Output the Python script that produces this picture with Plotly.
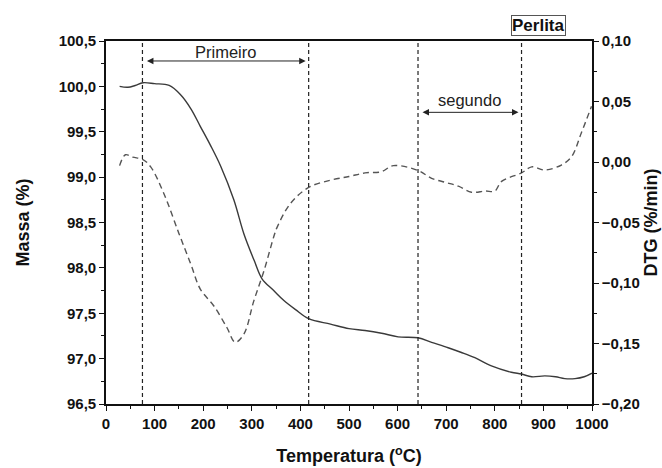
import plotly.graph_objects as go

# Mass curve (TG), %
T_mass = [28, 45, 60, 76, 100, 130, 153, 175, 194, 215, 236, 263, 284, 305, 321, 345, 366, 390, 417, 462,
          500, 533, 567, 601, 642, 670, 704, 730, 759, 793, 834, 855, 876, 903, 925, 944, 965, 984, 1000]
mass = [100.0, 99.99, 100.01, 100.04, 100.03, 100.01, 99.91, 99.75, 99.56, 99.35, 99.12, 98.75, 98.37, 98.08, 97.88,
        97.75, 97.64, 97.54, 97.44, 97.38, 97.33, 97.31, 97.28, 97.24, 97.23, 97.18, 97.12, 97.07, 97.01, 96.92,
        96.85, 96.83, 96.80, 96.81, 96.80, 96.78, 96.78, 96.80, 96.84]

# DTG curve, %/min
T_dtg = [28, 40, 55, 76, 92, 119, 150, 175, 194, 222, 249, 266, 284, 304, 325, 345, 352, 380, 417, 462,
         500, 533, 567, 591, 642, 670, 700, 725, 752, 780, 800, 814, 855, 876, 903, 937, 958, 978, 999]
dtg = [-0.003, 0.006, 0.004, 0.002, -0.004, -0.026, -0.059, -0.085, -0.105, -0.119, -0.137, -0.149, -0.142,
       -0.115, -0.090, -0.062, -0.054, -0.034, -0.021, -0.015, -0.012, -0.009, -0.008, -0.003, -0.007, -0.0135,
       -0.017, -0.020, -0.025, -0.024, -0.024, -0.016, -0.009, -0.004, -0.0066, -0.0025, 0.0044, 0.024, 0.046]

event_temps = [75, 417, 642, 855]
stage_labels = ["Primeiro", "segundo"]
x_ticks = list(range(0, 1001, 100))

font_main = "Liberation Sans, Arial, sans-serif"
line_col = "#3a3a3a"

fig = go.Figure()
fig.add_trace(go.Scatter(x=T_mass, y=mass, mode="lines", line=dict(color=line_col, width=1.4, shape="spline"),
                         showlegend=False, yaxis="y"))
fig.add_trace(go.Scatter(x=T_dtg, y=dtg, mode="lines",
                         line=dict(color="#555555", width=1.4, shape="spline", dash="6px,4px"),
                         showlegend=False, yaxis="y2"))

for t in event_temps:
    fig.add_shape(type="line", xref="x", yref="paper", x0=t, x1=t, y0=0, y1=1,
                  line=dict(color="#222", width=1.2, dash="4px,3px"))

# stage arrows
arrows = [(event_temps[0], event_temps[1], 100.28, 100.38, stage_labels[0]),
          (event_temps[2], event_temps[3], 99.714, 99.85, stage_labels[1])]
for a, b, yy, ty, lab in arrows:
    fig.add_annotation(x=b, y=yy, ax=a, ay=yy, xref="x", yref="y", axref="x", ayref="y",
                       showarrow=True, arrowhead=2, arrowside="end+start", arrowsize=1.3, arrowwidth=1,
                       arrowcolor="#222", text="", font=dict(size=10), standoff=3, startstandoff=3)
    fig.add_annotation(x=(a + b) / 2, y=ty, xref="x", yref="y", text=lab, showarrow=False,
                       font=dict(family=font_main, size=16.5, color="#222"))

fig.add_annotation(x=(538 - 106) / (662 - 176), y=1 + (41 - 25) / (468 - 105), xref="paper", yref="paper",
                   xanchor="center", yanchor="middle", text="<b>Perlita</b>", showarrow=False,
                   font=dict(family=font_main, size=17, color="#111"), bordercolor="#555", borderwidth=1,
                   borderpad=0, bgcolor="white")

axis_common = dict(showgrid=False, zeroline=False, showline=True, linecolor="#111", linewidth=1.6,
                   ticks="outside", tickcolor="#111", ticklen=5, tickwidth=1.3, automargin=False,
                   tickfont=dict(family=font_main, size=15, color="#111", weight="bold"))

title_font = dict(family=font_main, size=18, color="#111", weight="bold")

fig.update_layout(
    width=662, height=468,
    margin=dict(l=106, r=70, t=41, b=64),
    paper_bgcolor="white", plot_bgcolor="white",
    separators=",.",
    font=dict(family=font_main, color="#111"),
    xaxis=dict(range=[0, 1000], tickvals=x_ticks, mirror=True,
               minor=dict(dtick=50, ticks="outside", ticklen=3, tickcolor="#111"),
               title=dict(text="Temperatura (<sup>o</sup>C)", font=title_font, standoff=19),
               **axis_common),
    yaxis=dict(range=[96.5, 100.5], dtick=0.5, tickformat=".1f",
               minor=dict(dtick=0.25, ticks="outside", ticklen=3, tickcolor="#111"),
               title=dict(text="Massa (%)", font=title_font, standoff=24),
               **axis_common),
    yaxis2=dict(range=[-0.20, 0.10], dtick=0.05, tickformat=".2f", overlaying="y", side="right",
                minor=dict(dtick=0.025, ticks="outside", ticklen=3, tickcolor="#111"),
                title=dict(text="DTG (%/min)", font=title_font, standoff=6),
                **axis_common),
)

fig.write_html("out.html")
